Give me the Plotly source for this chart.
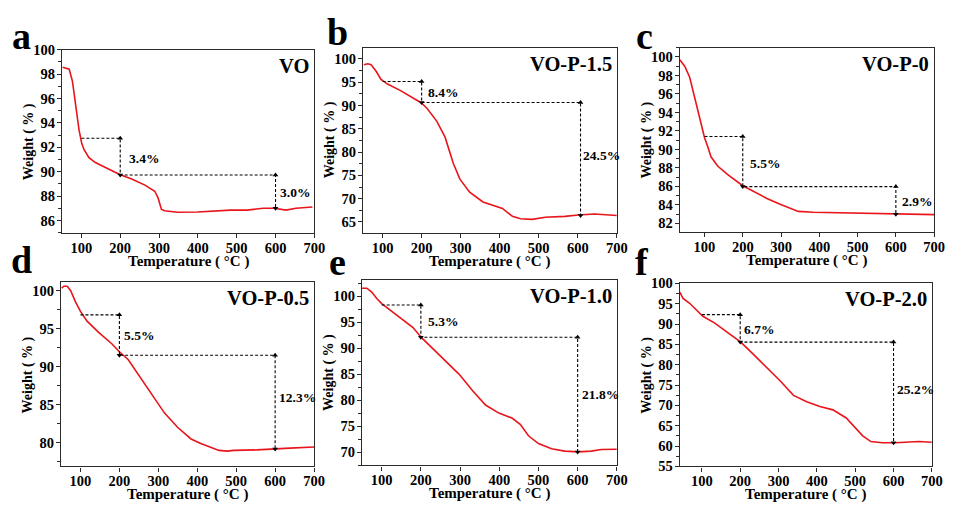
import plotly.graph_objects as go

# ---------------- data ----------------
vo_t = [51.7, 60, 68.6, 77, 85.6, 94, 101, 107, 119.5, 136, 162, 200, 229.7, 263.6, 289, 297.5, 306, 314, 348, 399, 484, 526, 568, 597, 627, 653, 695]
vo_w = [98.55, 98.5, 98.4, 97.4, 95.5, 93.4, 92.3, 91.8, 91.15, 90.75, 90.35, 89.75, 89.4, 88.9, 88.4, 87.85, 86.93, 86.8, 86.67, 86.7, 86.85, 86.85, 87.0, 87.0, 86.85, 87.0, 87.1]

p15_t = [52, 62, 70.5, 83, 96, 112.6, 146, 180, 198.5, 213.6, 239, 260, 281, 298, 323, 357, 382, 407, 432.5, 453.5, 483, 516.7, 567, 601, 643, 700]
p15_w = [98.75, 98.96, 98.75, 97.4, 95.6, 94.6, 93.2, 91.6, 90.6, 89.4, 86.6, 83.2, 77.6, 74.2, 71.4, 69.3, 68.6, 67.9, 66.2, 65.7, 65.55, 66.0, 66.2, 66.5, 66.7, 66.4]

p0_t = [35.5, 48.4, 61.3, 74.2, 87, 100, 108.6, 117, 134.4, 160, 199, 229, 263, 297.8, 323.6, 345, 383.8, 461, 547, 598.7, 700]
p0_w = [99.7, 99.0, 97.8, 95.7, 93.4, 91.3, 90.3, 89.2, 88.2, 87.3, 86.1, 85.4, 84.7, 84.06, 83.6, 83.3, 83.2, 83.15, 83.05, 83.0, 82.95]

p05_t = [51.7, 57.6, 66, 74.6, 87.3, 100, 117, 146.6, 180.5, 200, 222.9, 248.3, 282, 316, 350, 384, 409, 435, 456, 477, 494, 553, 600, 638, 700]
p05_w = [100.3, 100.55, 100.55, 100.0, 98.5, 97.25, 95.97, 94.5, 93.0, 91.95, 90.9, 89.0, 86.4, 83.9, 82.0, 80.5, 79.9, 79.45, 79.0, 78.9, 79.0, 79.07, 79.15, 79.3, 79.45]

p10_t = [49.5, 62, 74.7, 87.4, 100, 121, 154.7, 180, 201, 230.5, 264, 297.8, 331.5, 365, 399, 432.5, 453.5, 474.6, 500, 533.5, 567, 601, 634.5, 660, 700]
p10_w = [101.55, 101.55, 100.8, 99.57, 98.6, 97.4, 95.5, 94.0, 92.1, 89.96, 87.5, 85.0, 81.9, 79.1, 77.56, 76.6, 75.4, 73.2, 71.7, 70.7, 70.24, 70.1, 70.24, 70.55, 70.6]

p20_t = [42.4, 51, 68, 85.4, 102.6, 132.7, 167, 201.5, 235.9, 270, 304.6, 339, 373.4, 407.8, 442, 476.6, 502.4, 519.6, 541, 571, 605.6, 640, 665.8, 700]
p20_w = [97.86, 96.27, 95.1, 93.5, 91.9, 90.3, 87.9, 85.56, 82.4, 79.2, 76.0, 72.46, 70.9, 69.7, 68.9, 66.9, 64.1, 62.5, 61.1, 60.8, 60.8, 60.95, 61.1, 60.95]

panel_letters = ["a", "b", "c", "d", "e", "f"]
sample_names = ["VO", "VO-P-1.5", "VO-P-0", "VO-P-0.5", "VO-P-1.0", "VO-P-2.0"]
temps = [vo_t, p15_t, p0_t, p05_t, p10_t, p20_t]
weights = [vo_w, p15_w, p0_w, p05_w, p10_w, p20_w]

# weight-loss step markers: x positions (°C) and weight levels (%)
step_x = [[100, 200, 600], [100, 200, 607], [100, 200, 600],
          [100, 200, 600], [100, 200, 600], [100, 200, 600]]
step_w = [[92.74, 89.73, 87.0], [95.15, 90.64, 66.4], [91.4, 85.98, 83.0],
          [96.8, 91.5, 79.2], [98.33, 92.13, 70.1], [92.3, 85.56, 60.8]]
loss_labels = [["3.4%", "3.0%"], ["8.4%", "24.5%"], ["5.5%", "2.9%"],
               ["5.5%", "12.3%"], ["5.3%", "21.8%"], ["6.7%", "25.2%"]]
label_pos = [[(217, 91.1), (606.8, 88.3)], [(210, 92.7), (609, 79.35)],
             [(213.5, 88.47), (611.6, 84.4)], [(207.6, 94.07), (604, 85.9)],
             [(213.6, 95.1), (605, 81.15)], [(205.8, 88.7), (604, 74.0)]]

x_ranges = [[50, 700], [50, 700], [35.5, 700], [50, 700], [50, 700], [42.4, 700]]
y_ranges = [[85, 100], [62.7, 102.4], [81.1, 101], [76.9, 101.06], [67.5, 103.1], [55, 100]]
y_dticks = [2, 5, 2, 5, 5, 5]
x_ticks = [100, 200, 300, 400, 500, 600, 700]

# ---------------- layout geometry (pixels) ----------------
W, H = 957, 508
boxes = [(62.7, 318, 43, 232), (367.3, 624, 41, 232), (687.7, 945, 41, 231),
         (61.7, 317.7, 283.3, 473.3), (366.3, 624, 281, 472.3), (687.7, 942.7, 284.3, 473.3)]
letter_xy = [(22, 29), (341, 25), (652, 29), (22, 260), (341, 262), (649, 262)]

FONT = "Liberation Serif"
RED = "#e8151b"
AX = "#2b2b2b"

fig = go.Figure()
annotations = []

for i in range(6):
    n = i + 1
    xa = "x" if n == 1 else f"x{n}"
    ya = "y" if n == 1 else f"y{n}"
    x0, x1, yt, yb = boxes[i]
    fig.add_trace(go.Scatter(x=temps[i], y=weights[i], mode="lines",
                             line=dict(color=RED, width=1.6),
                             xaxis=xa, yaxis=ya, showlegend=False, hoverinfo="skip"))
    sx, sw = step_x[i], step_w[i]
    fig.add_trace(go.Scatter(x=[sx[0], sx[1], sx[1], sx[2], sx[2]],
                             y=[sw[0], sw[0], sw[1], sw[1], sw[2]],
                             mode="lines", line=dict(color="black", width=1.1, dash="3px,2px"),
                             xaxis=xa, yaxis=ya, showlegend=False, hoverinfo="skip"))
    # arrow heads at both ends of the vertical segments
    fig.add_trace(go.Scatter(x=[sx[1], sx[2]], y=[sw[1], sw[2]], mode="markers",
                             marker=dict(symbol="triangle-down", size=5, color="black"),
                             xaxis=xa, yaxis=ya, showlegend=False, hoverinfo="skip"))
    fig.add_trace(go.Scatter(x=[sx[1], sx[2]], y=[sw[0], sw[1]], mode="markers",
                             marker=dict(symbol="triangle-up", size=5, color="black"),
                             xaxis=xa, yaxis=ya, showlegend=False, hoverinfo="skip"))

    dom_x = [x0 / W, x1 / W]
    dom_y = [1 - yb / H, 1 - yt / H]
    axis_common = dict(showline=True, mirror=True, linecolor=AX, linewidth=1.4,
                       showgrid=False, zeroline=False, ticks="outside", ticklen=4,
                       tickwidth=1.2, tickcolor=AX,
                       tickfont=dict(family=FONT, size=14.5, color="black", weight=700))
    fig.layout[f"xaxis{'' if n == 1 else n}"] = dict(
        domain=dom_x, range=x_ranges[i], anchor=ya, tickvals=x_ticks,
        ticklabelstandoff=-2 if i < 3 else -3, **axis_common)
    fig.layout[f"yaxis{'' if n == 1 else n}"] = dict(
        domain=dom_y, range=y_ranges[i], anchor=xa, dtick=y_dticks[i], tick0=0,
        ticklabelstandoff=-1,
        minor=dict(dtick=y_dticks[i] / 2, ticks="outside", ticklen=2.5, tickcolor=AX, tickwidth=1),
        **axis_common)

    # sample name
    annotations.append(dict(text=sample_names[i], x=1, y=1, xref=f"{xa} domain", yref=f"{ya} domain",
                            xanchor="right", yanchor="middle", xshift=-3, yshift=-16, showarrow=False,
                            font=dict(family=FONT, size=20.5, color="black", weight=700)))
    # loss labels
    for lab, (lx, ly) in zip(loss_labels[i], label_pos[i]):
        annotations.append(dict(text=lab, x=lx, y=ly, xref=xa, yref=ya, xanchor="left",
                                yanchor="middle", showarrow=False,
                                font=dict(family=FONT, size=13.5, color="black", weight=700)))
    # axis titles
    annotations.append(dict(text="Weight ( % )", x=0, y=0.5, xref=f"{xa} domain", yref=f"{ya} domain",
                            xanchor="center", yanchor="middle", xshift=-33, textangle=-90, showarrow=False,
                            font=dict(family=FONT, size=14, color="black", weight=700)))
    annotations.append(dict(text="Temperature ( °C )", x=0.5, y=0, xref=f"{xa} domain", yref=f"{ya} domain",
                            xanchor="center", yanchor="middle", yshift=-29 if i < 3 else -28,
                            showarrow=False,
                            font=dict(family=FONT, size=15, color="black", weight=700)))
    # panel letter
    lx, ly = letter_xy[i]
    annotations.append(dict(text=panel_letters[i], x=lx / W, y=1 - ly / H, xref="paper", yref="paper",
                            xanchor="center", yanchor="middle", showarrow=False,
                            font=dict(family=FONT, size=38, color="black", weight=700)))

fig.update_layout(width=W, height=H, margin=dict(l=0, r=0, t=0, b=0),
                  paper_bgcolor="white", plot_bgcolor="white", annotations=annotations)

fig.write_html("out.html", config={"displayModeBar": False},
               post_script="document.body.style.margin='0px';document.body.style.overflow='hidden';")
